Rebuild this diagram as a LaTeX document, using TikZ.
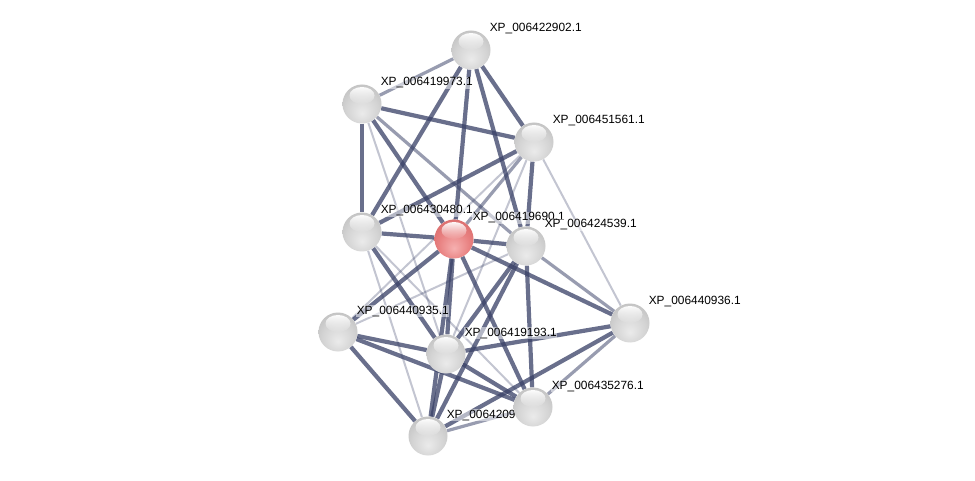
\documentclass[tikz,border=0pt]{standalone}
\usepackage{fontspec}
\setmainfont{Liberation Sans}
\usetikzlibrary{fadings}
\definecolor{edgec}{RGB}{58,66,104}
\definecolor{r0}{RGB}{246,176,176}
\definecolor{r1}{RGB}{232,128,128}
\definecolor{r2}{RGB}{214,104,104}
\definecolor{r3}{RGB}{190,80,80}
\definecolor{r4}{RGB}{140,50,50}
\tikzfading[name=hlfade, top color=transparent!5, bottom color=transparent!100]
\pgfdeclareradialshading{wball}{\pgfpoint{0bp}{-12bp}}{color(0bp)=(white!92!black); color(20bp)=(white!83!black); color(36bp)=(white!74!black); color(44bp)=(white!60!black); color(50bp)=(white!40!black); color(60bp)=(white!40!black)}
\pgfdeclareradialshading{rball}{\pgfpoint{0bp}{-12bp}}{color(0bp)=(r0); color(20bp)=(r1); color(36bp)=(r2); color(45bp)=(r3); color(50bp)=(r4); color(60bp)=(r4)}
\pgfdeclarelayer{bg}
\pgfdeclarelayer{edges}
\pgfdeclarelayer{labels}
\pgfsetlayers{bg,edges,labels,main}
\tikzset{
  x=1pt, y=1pt,
  ball/.style={circle, minimum size=39pt, inner sep=0pt, draw=none, shading=wball},
  redball/.style={ball, shading=rball},
  lbl/.style={anchor=base west, inner sep=0.6pt, fill=white, fill opacity=0.5, text opacity=1,
     font=\fontsize{11.9}{13}\selectfont, text=black},
  strong/.style={draw=edgec, draw opacity=0.76, line width=4.2pt},
  medium/.style={draw=edgec, draw opacity=0.52, line width=3.2pt},
  weak/.style={draw=edgec, draw opacity=0.3, line width=2pt},
}
\newcommand\sph[4]{%
  \node[#4] (#1) at (#2,-#3) {};
  \fill[white, path fading=hlfade] (#1) ++(0,8.5) ellipse (12.5 and 8.5);
}
\begin{document}
\begin{tikzpicture}
\useasboundingbox (0,0) rectangle (975,-481);
\begin{pgfonlayer}{bg}
\fill[white] (0,0) rectangle (975,-481);
\end{pgfonlayer}
% nodes
\sph{A}{471}{50}{ball}
\sph{B}{362}{104}{ball}
\sph{C}{534}{142}{ball}
\sph{D}{362}{232}{ball}
\sph{F}{526}{246}{ball}
\sph{G}{630}{323}{ball}
\sph{H}{338}{332}{ball}
\sph{I}{446}{354}{ball}
\sph{K}{428}{436}{ball}
\sph{J}{533}{407}{ball}
\sph{E}{454}{239}{redball}
% labels
\begin{pgfonlayer}{labels}
\node[lbl] (lA) at (489,-32) {XP\_006422902.1};
\node[lbl] (lB) at (380,-86) {XP\_006419973.1};
\node[lbl] (lC) at (552,-124) {XP\_006451561.1};
\node[lbl] (lD) at (380,-214) {XP\_006430480.1};
\node[lbl] (lE) at (472,-221) {XP\_006419690.1};
\node[lbl] (lF) at (544,-228) {XP\_006424539.1};
\node[lbl] (lG) at (648,-305) {XP\_006440936.1};
\node[lbl] (lH) at (356,-314) {XP\_006440935.1};
\node[lbl] (lI) at (464,-336) {XP\_006419193.1};
\node[lbl] (lJ) at (551,-389) {XP\_006435276.1};
\node[lbl] (lK) at (446,-418) {XP\_0064209};
\end{pgfonlayer}
% edges
\begin{pgfonlayer}{edges}
\draw[medium] (A) -- (B);
\draw[strong] (A) -- (C);
\draw[strong] (A) -- (D);
\draw[strong] (A) -- (E);
\draw[strong] (A) -- (F);
\draw[strong] (B) -- (C);
\draw[strong] (B) -- (D);
\draw[strong] (B) -- (E);
\draw[medium] (B) -- (F);
\draw[weak] (B) -- (I);
\draw[strong] (C) -- (D);
\draw[medium] (C) -- (E);
\draw[strong] (C) -- (F);
\draw[weak] (C) -- (G);
\draw[weak] (C) -- (H);
\draw[weak] (C) -- (I);
\draw[strong] (D) -- (E);
\draw[strong] (D) -- (I);
\draw[weak] (D) -- (K);
\draw[weak] (D) -- (J);
\draw[strong] (E) -- (F);
\draw[strong] (E) -- (G);
\draw[strong] (E) -- (H);
\draw[strong] (E) -- (I);
\draw[strong] (E) -- (J);
\draw[strong] (E) -- (K);
\draw[medium] (F) -- (G);
\draw[weak] (F) -- (H);
\draw[strong] (F) -- (I);
\draw[strong] (F) -- (J);
\draw[strong] (F) -- (K);
\draw[strong] (G) -- (I);
\draw[medium] (G) -- (J);
\draw[strong] (G) -- (K);
\draw[strong] (H) -- (I);
\draw[strong] (H) -- (J);
\draw[strong] (H) -- (K);
\draw[strong] (I) -- (J);
\draw[strong] (I) -- (K);
\draw[medium] (J) -- (K);
\end{pgfonlayer}
\end{tikzpicture}
\end{document}
